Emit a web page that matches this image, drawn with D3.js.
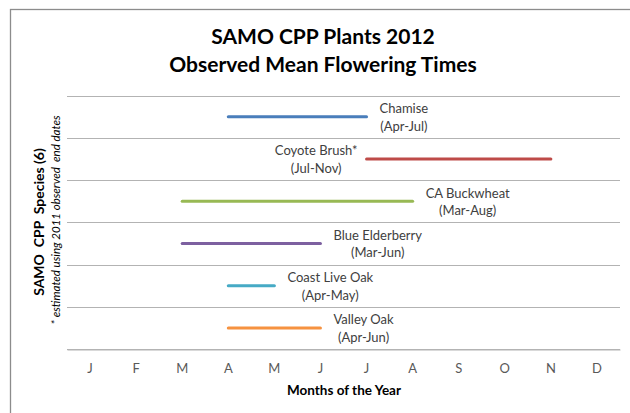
<!DOCTYPE html>
<html>
<head>
<meta charset="utf-8">
<script src="https://cdn.jsdelivr.net/npm/d3@7"></script>
<style>
  html, body { margin: 0; padding: 0; background: #fff; }
  svg { display: block; }
  text { font-family: Lato, "Open Sans", sans-serif; }
</style>
</head>
<body>
<svg id="chart" width="630" height="413"></svg>
<script>
// Month tick labels (Jan..Dec)
const months = ["J", "F", "M", "A", "M", "J", "J", "A", "S", "O", "N", "D"];

// Species, top to bottom
const species = ["Chamise", "Coyote Brush*", "CA Buckwheat", "Blue Elderberry", "Coast Live Oak", "Valley Oak"];
// Flowering start / end month (0 = January)
const startMonth = [3, 6, 2, 2, 3, 3];
const endMonth   = [6, 10, 7, 5, 4, 5];
const rangeLabels = ["(Apr-Jul)", "(Jul-Nov)", "(Mar-Aug)", "(Mar-Jun)", "(Apr-May)", "(Apr-Jun)"];
// Which side of the bar the label sits on
const labelSide = ["right", "left", "right", "right", "right", "right"];
const colors = ["#4A7EBB", "#BE4B48", "#98B954", "#7D60A0", "#46AAC5", "#F69240"];

const svg = d3.select("#chart");
const margin = { left: 67, right: 10, top: 95.5, bottom: 64 };
const W = 630, H = 413;

// Outer chart border
svg.append("rect")
  .attr("x", 10.5).attr("y", 9.5)
  .attr("width", 640).attr("height", 420)
  .attr("fill", "none").attr("stroke", "#8c8c8c").attr("stroke-width", 1.3);

const x = d3.scaleBand().domain(d3.range(12)).range([margin.left, W - margin.right]);
const y = d3.scaleBand().domain(d3.range(species.length)).range([margin.top, H - margin.bottom]);
const cx = i => x(i) + x.bandwidth() / 2;
const cy = i => y(i) + y.bandwidth() / 2;

// Horizontal gridlines at band edges
const edges = y.domain().map(i => y(i)).concat([y.range()[1]]);
svg.append("g").selectAll("line").data(edges).join("line")
  .attr("x1", margin.left).attr("x2", W - margin.right)
  .attr("y1", d => Math.round(d) + 0.5).attr("y2", d => Math.round(d) + 0.5)
  .attr("stroke", "#b3b3b3").attr("stroke-width", 1);

// Month axis
const xAxis = svg.append("g")
  .attr("transform", `translate(0,${Math.round(y.range()[1]) + 0.5})`)
  .call(d3.axisBottom(x).tickSize(0).tickPadding(14).tickFormat(i => months[i]));
xAxis.select(".domain").attr("stroke", "#b3b3b3");
xAxis.selectAll("text")
  .attr("font-family", "Lato, sans-serif").attr("font-size", 13).attr("fill", "#595959");

// Flowering-period bars
svg.append("g").selectAll("line").data(species).join("line")
  .attr("x1", (d, i) => cx(startMonth[i])).attr("x2", (d, i) => cx(endMonth[i]))
  .attr("y1", (d, i) => cy(i)).attr("y2", (d, i) => cy(i))
  .attr("stroke", (d, i) => colors[i]).attr("stroke-width", 3)
  .attr("stroke-linecap", "round");

// Two-line labels beside each bar
const lab = svg.append("g").selectAll("text").data(species).join("text")
  .attr("font-size", 13).attr("fill", "#404040")
  .attr("text-anchor", "middle");
lab.each(function (d, i) {
  const t = d3.select(this);
  const l1 = t.append("tspan").attr("y", cy(i) - 3.5).text(d);
  const l2 = t.append("tspan").attr("y", cy(i) + 14).text(rangeLabels[i]);
  const w = Math.max(l1.node().getComputedTextLength(), l2.node().getComputedTextLength());
  const mid = labelSide[i] === "right"
    ? cx(endMonth[i]) + 13 + w / 2
    : cx(startMonth[i]) - 9 - w / 2;
  l1.attr("x", mid); l2.attr("x", mid);
});

// Titles
svg.append("text").attr("x", 323).attr("y", 44).attr("text-anchor", "middle")
  .attr("font-size", 21).attr("font-weight", "bold").attr("fill", "#000")
  .text("SAMO CPP Plants 2012");
svg.append("text").attr("x", 323).attr("y", 72).attr("text-anchor", "middle")
  .attr("font-size", 21).attr("font-weight", "bold").attr("fill", "#000")
  .text("Observed Mean Flowering Times");

svg.append("text").attr("x", 344).attr("y", 395).attr("text-anchor", "middle")
  .attr("font-size", 13.5).attr("font-weight", "bold").attr("fill", "#000")
  .text("Months of the Year");

svg.append("text").attr("transform", "translate(44,222) rotate(-90)")
  .attr("text-anchor", "middle").attr("font-size", 14).attr("font-weight", "bold").attr("fill", "#000")
  .attr("xml:space", "preserve")
  .text("SAMO  CPP  Species (6)");
svg.append("text").attr("transform", "translate(60,220) rotate(-90)")
  .attr("text-anchor", "middle").attr("font-size", 11.5).attr("font-style", "italic").attr("fill", "#000")
  .attr("xml:space", "preserve")
  .text("* estimated using 2011 observed  end dates");
</script>
</body>
</html>
